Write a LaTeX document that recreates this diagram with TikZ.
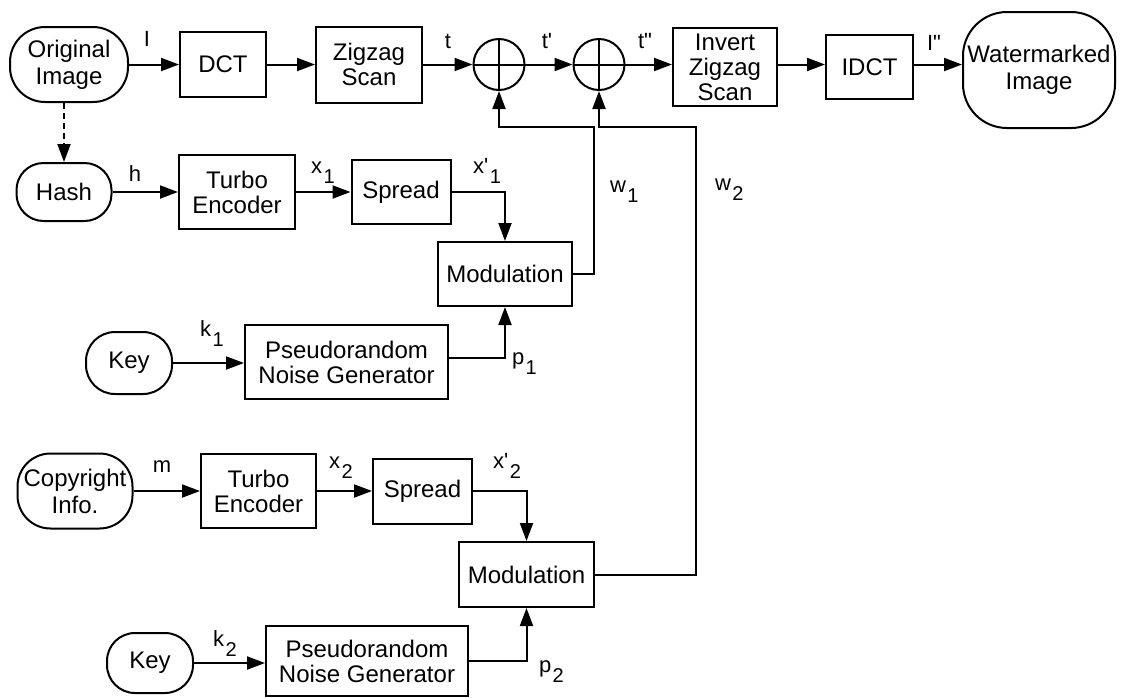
\documentclass[tikz,border=0pt]{standalone}
\usepackage{fontspec}
\setmainfont{Liberation Sans}[Ligatures=TeXOff]
\usetikzlibrary{arrows.meta,calc}
% lowered index for the signal names
\newcommand\lsub[1]{\kern1.5pt\raisebox{-10pt}{\fontsize{20}{20}\selectfont #1}}

\begin{document}
\begin{tikzpicture}[x=1pt,y=-1pt,line width=2pt,
  >={Triangle[length=18pt,width=13pt]},
  blk/.style={draw,rectangle,inner sep=0pt,align=center,font=\fontsize{24}{25}\selectfont},
  term/.style={draw,rectangle,rounded corners=#1,inner sep=0pt,align=center,font=\fontsize{24}{27}\selectfont},
  term/.default=28pt,
  sum/.style={draw,circle,inner sep=0pt,minimum size=51pt},
  lbl/.style={inner sep=0pt,font=\fontsize{22}{22}\selectfont},
  flow/.style={->},
]
\useasboundingbox (0,0) rectangle (1124,697);

% main embedding chain
\node[term=35pt,minimum width=118pt,minimum height=75pt] (orig) at (69,64.5) {Original\\Image};
\node[blk,minimum width=86pt,minimum height=65pt] (dct) at (223,64.5) {DCT};
\node[blk,minimum width=106pt,minimum height=76pt] (zig) at (369,64.5) {Zigzag\\Scan};
\node[sum] (c1) at (499,64.5) {};
\node[sum] (c2) at (599,64.5) {};
\node[blk,minimum width=104pt,minimum height=78pt] (inv) at (725,67) {Invert\\Zigzag\\Scan};
\node[blk,minimum width=87pt,minimum height=64pt] (idct) at (869.5,67) {IDCT};
\node[term=44pt,minimum width=152pt,minimum height=116pt] (wm) at (1039,70) {Watermarked\\Image};

% hash branch
\node[term=27pt,minimum width=95pt,minimum height=58pt] (hash) at (64,192) {Hash};
\node[blk,minimum width=116pt,minimum height=74pt] (turbo1) at (237,192) {Turbo\\Encoder};
\node[blk,minimum width=99pt,minimum height=64pt] (spread1) at (401,192) {Spread};
\node[blk,minimum width=134pt,minimum height=64pt] (mod1) at (505,274) {Modulation};
\node[term=29pt,minimum width=86pt,minimum height=62pt] (key1) at (129,363) {Key};
\node[blk,minimum width=203pt,minimum height=74pt] (png1) at (346.5,362) {Pseudorandom\\Noise Generator};

% copyright branch
\node[term=33pt,minimum width=115pt,minimum height=75pt] (copy) at (75,491) {Copyright\\Info.};
\node[blk,minimum width=115pt,minimum height=74pt] (turbo2) at (258.5,491) {Turbo\\Encoder};
\node[blk,minimum width=99pt,minimum height=65pt] (spread2) at (422.5,491) {Spread};
\node[blk,minimum width=135pt,minimum height=65pt] (mod2) at (526.5,574.5) {Modulation};
\node[term=28pt,minimum width=86pt,minimum height=60pt] (key2) at (150,663) {Key};
\node[blk,minimum width=202pt,minimum height=70pt] (png2) at (367,661) {Pseudorandom\\Noise Generator};

% crosses of the adders
\draw (c1.north) -- (c1.south) (c1.west) -- (c1.east);
\draw (c2.north) -- (c2.south) (c2.west) -- (c2.east);

% connectors
\draw[flow] (orig) -- (dct);
\draw[flow] (dct) -- (zig);
\draw[flow] (zig) -- (c1);
\draw[flow] (c1) -- (c2);
\draw[flow] (c2.east) -- (c2.east -| inv.west);
\draw[flow] (c2.east -| inv.east) -- (c2.east -| idct.west);
\draw[flow] (c2.east -| idct.east) -- (c2.east -| wm.west);
\draw[flow,dash pattern=on 6pt off 4pt] (orig.south -| hash.north) -- (hash.north);

\draw[flow] (hash) -- (turbo1);
\draw[flow] (turbo1) -- (spread1);
\draw[flow] (spread1.east) -| (mod1.north);
\coordinate (w1c) at (594,127);
\draw[flow] (mod1.east) -| (w1c) -| (c1.south);
\draw[flow] (key1.east) -- (key1.east -| png1.west);
\draw[flow] ($(png1.east)+(0,-4)$) -| (mod1.south);

\draw[flow] (copy) -- (turbo2);
\draw[flow] (turbo2) -- (spread2);
\draw[flow] (spread2.east) -| (mod2.north);
\coordinate (w2c) at (696,127);
\draw[flow] (mod2.east) -| (w2c) -| (c2.south);
\draw[flow] (key2.east) -- (key2.east -| png2.west);
\draw[flow] (png2.east) -| (mod2.south);

% signal names
\node[lbl,anchor=south] (lI) at (147,47) {I};
\node[lbl,anchor=south] (lt) at (448,50) {t};
\node[lbl,anchor=south] (lt1) at (547,50) {t'};
\node[lbl,anchor=south] (lt2) at (645,50) {t"};
\node[lbl,anchor=south] (lI2) at (934,51) {I"};
\node[lbl,anchor=south] (lh) at (135,182) {h};
\node[lbl,anchor=south] (lx1) at (323,184) {x\lsub{1}};
\node[lbl,anchor=south] (lxs1) at (487,184) {x'\lsub{1}};
\node[lbl,anchor=north west] (lk1) at (199,320) {k\lsub{1}};
\node[lbl,anchor=north west] (lp1) at (511,352) {p\lsub{1}};
\node[lbl,anchor=north west] (lw1) at (609,180) {w\lsub{1}};
\node[lbl,anchor=north west] (lw2) at (714,178) {w\lsub{2}};
\node[lbl,anchor=south] (lm) at (162,473) {m};
\node[lbl,anchor=south] (lx2) at (341,479) {x\lsub{2}};
\node[lbl,anchor=south] (lxs2) at (507,479) {x'\lsub{2}};
\node[lbl,anchor=north west] (lk2) at (212,630) {k\lsub{2}};
\node[lbl,anchor=north west] (lp2) at (538,660) {p\lsub{2}};
\end{tikzpicture}
\end{document}
